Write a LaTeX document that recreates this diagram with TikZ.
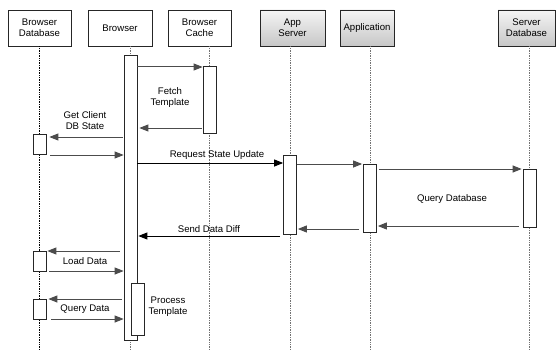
\documentclass[tikz,border=0pt]{standalone}
\usepackage{fontspec}
\setmainfont{Liberation Sans}
\usetikzlibrary{arrows.meta,positioning}
\begin{document}
\begin{tikzpicture}[x=1pt,y=-1pt,
  font=\fontsize{9.6}{11}\selectfont,
  hdr/.style={draw=black!85,line width=0.6pt,minimum width=63pt,minimum height=36pt,align=center,inner sep=1pt},
  ghdr/.style={hdr,top color=black!4,bottom color=black!22},
  life/.style={densely dotted,line width=0.7pt,draw=black!55},
  bar/.style={draw=black!85,fill=white,line width=0.7pt,minimum width=13pt,inner sep=0pt,anchor=north},
  msg/.style={line width=1pt,draw=black!70,-{Triangle[length=9pt,width=7pt]}},
  bmsg/.style={msg,draw=black},
  lbl/.style={align=center,inner sep=0pt}]
\useasboundingbox (0,0) rectangle (556,350);
% headers
\node[hdr] (hBDB) at (39.5,28) {Browser\\Database};
\node[hdr,minimum width=64pt] (hB) at (120,28) {Browser};
\node[hdr] (hC) at (199.5,28) {Browser\\Cache};
\node[ghdr,minimum width=65pt] (hA) at (292.5,28) {App\\Server};
\node[ghdr,minimum width=54pt] (hP) at (367,28) {Application};
\node[ghdr,minimum width=57pt] (hS) at (526.5,28) {Server\\Database};
% lifelines
\coordinate (eBDB) at (39.5,350);
\coordinate (eB) at (130.5,350);
\coordinate (eC) at (209.5,350);
\coordinate (eA) at (290,350);
\coordinate (eP) at (370,350);
\coordinate (eS) at (529.5,350);
\draw[life,draw=black] (hBDB.south) -- (eBDB);
\draw[life] (hB.south -| eB) -- (eB);
\draw[life] (hC.south -| eC) -- (eC);
\draw[life] (hA.south -| eA) -- (eA);
\draw[life] (hP.south -| eP) -- (eP);
\draw[life] (hS.south -| eS) -- (eS);
% activation bars
\node[bar,minimum height=285pt] (bB) at (130.5,55) {};
\node[bar,minimum height=67pt] (bC) at (209.5,66) {};
\node[bar,minimum height=20pt] (bD1) at (39.5,134) {};
\node[bar,minimum height=79pt] (bA) at (290,155) {};
\node[bar,minimum height=68pt] (bP) at (370,164) {};
\node[bar,minimum height=58pt] (bS) at (529.5,169) {};
\node[bar,minimum height=20pt] (bD2) at (39.5,251) {};
\node[bar,minimum height=20pt] (bD3) at (39.5,299) {};
\node[bar,minimum height=52pt] (bT) at (137.5,283) {};
% messages
\draw[msg] (bB.east |- 0,67) -- (bC.west |- 0,67);
\draw[msg] ([xshift=-1pt]bC.west |- 0,128) -- ([xshift=2pt]bB.east |- 0,128);
\node[lbl] (lFetch) at (170,98) {Fetch\\Template};
\draw[msg] ([xshift=-1pt]bB.west |- 0,137) -- ([xshift=3pt]bD1.east |- 0,137);
\node[lbl] (lGet) at (85,121) {Get Client\\DB State};
\draw[msg] ([xshift=4pt]bD1.east |- 0,155) -- (bB.west |- 0,155);
\draw[bmsg] (bB.east |- 0,163) -- (bA.west |- 0,163);
\node[lbl] (lReq) at (217,155) {Request State Update};
\draw[msg] (bA.east |- 0,164) -- ([xshift=-1pt]bP.west |- 0,164);
\draw[msg] ([xshift=2pt]bP.east |- 0,169) -- ([xshift=-1pt]bS.west |- 0,169);
\draw[msg] ([xshift=-4pt]bS.west |- 0,226) -- ([xshift=1pt]bP.east |- 0,226);
\node[lbl] (lQDB) at (452,199) {Query Database};
\draw[msg] ([xshift=-4pt]bP.west |- 0,229) -- ([xshift=1pt]bA.east |- 0,229);
\draw[bmsg] ([xshift=-3pt]bA.west |- 0,236) -- ([xshift=1pt]bB.east |- 0,236);
\node[lbl] (lSend) at (209,229) {Send Data Diff};
\draw[msg] ([xshift=-4pt]bB.west |- 0,251) -- ([xshift=1pt]bD2.east |- 0,251);
\draw[msg] ([xshift=3pt]bD2.east |- 0,271) -- (bB.west |- 0,271);
\node[lbl] (lLoad) at (85,261) {Load Data};
\draw[msg] ([xshift=-2pt]bB.west |- 0,299) -- ([xshift=2pt]bD3.east |- 0,299);
\draw[msg] ([xshift=5pt]bD3.east |- 0,319) -- (bB.west |- 0,319);
\node[lbl] (lQD) at (85,309) {Query Data};
\node[lbl] (lProc) at (168,307) {Process\\Template};
\end{tikzpicture}
\end{document}
